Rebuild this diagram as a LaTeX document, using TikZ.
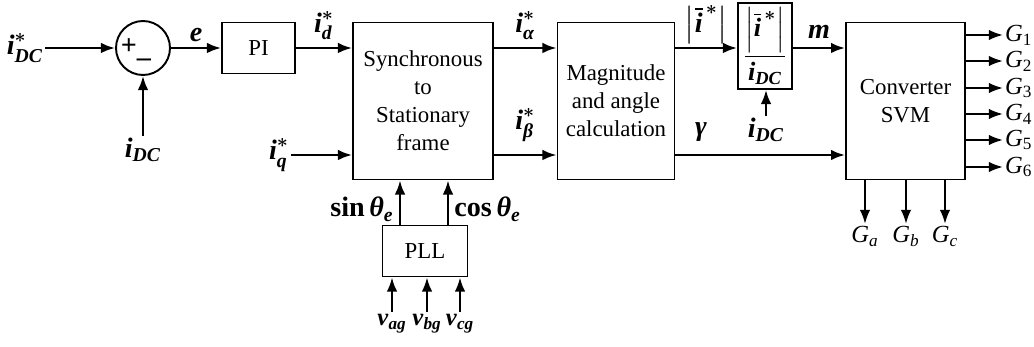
\documentclass[tikz,border=0pt]{standalone}
\usepackage{amsmath}
\usepackage{fontspec}
\setmainfont{Liberation Serif}
\usetikzlibrary{arrows.meta,positioning}
\newcommand{\bi}[1]{\textbf{\textit{#1}}}
\newcommand{\est}{\boldsymbol{\ast}}
\tikzset{
  blk/.style    = {draw, line width=1.1pt, align=center, inner sep=0pt},
  flecha/.style = {-{Latex[length=8pt,width=6pt]}, line width=1.3pt},
  lbl/.style    = {inner sep=1pt, font=\fontsize{16}{19}\selectfont},
  gsal/.style   = {inner sep=1pt, font=\fontsize{14}{17}\selectfont},
}
\begin{document}
\begin{tikzpicture}[x=0.02cm,y=-0.02cm,font=\fontsize{13}{16}\selectfont]
  \useasboundingbox (0,0) rectangle (1034,347);
  % bloques
  \node[blk,circle,minimum size=1.08cm] (suma) at (143,48) {};
  \node[lbl] (mas) at (129,47) {\textbf{+}};
  \node[lbl] (menos) at (144,63) {\textbf{--}};
  \node[blk,minimum width=1.46cm,minimum height=1.02cm] (PI) at (258.5,48) {PI};
  \node[blk,minimum width=2.8cm,minimum height=3.14cm] (sinc) at (423,101) {Synchronous\\to\\Stationary\\frame};
  \node[blk,minimum width=2.34cm,minimum height=3.14cm] (mag) at (616,101) {Magnitude\\and angle\\calculation};
  \node[blk,minimum width=1.08cm,minimum height=1.72cm,font=\fontsize{15}{18}\selectfont] (frac) at (765,46) {$\dfrac{\Bigl|\overline{\bi{i}}^{\,\est}\Bigr|}{\bi{i}_{\bi{DC}}}$};
  \node[blk,minimum width=2.38cm,minimum height=3.14cm] (svm) at (905.5,101) {Converter\\SVM};
  \node[blk,minimum width=1.7cm,minimum height=1.02cm] (pll) at (425,251) {PLL};
  % entradas
  \node[lbl] (idcref) at (25,48) {$\bi{i}^{\est}_{\bi{DC}}$};
  \node[lbl] (idc) at (143,150) {$\bi{i}_{\bi{DC}}$};
  \node[lbl] (iq) at (279,155) {$\bi{i}^{\est}_{\bi{q}}$};
  \node[lbl] (idcb) at (766,130) {$\bi{i}_{\bi{DC}}$};
  \coordinate (xs) at (400,0);
  \coordinate (xc) at (448,0);
  % conexiones
  \draw[flecha] (idcref) -- (suma);
  \draw[flecha] (idc.north) -- (suma.south);
  \draw[flecha] (suma) -- node[lbl,above=2pt]{\bi{e}} (PI);
  \draw[flecha] (PI.east) -- node[lbl,above=3pt]{$\bi{i}^{\est}_{\bi{d}}$} (PI.east -| sinc.west);
  \draw[flecha] (iq) -- (iq -| sinc.west);
  \draw[flecha] (sinc.east |- PI) -- node[lbl,above=3pt]{$\bi{i}^{\est}_{\bi{α}}$} (mag.west |- PI);
  \draw[flecha] (sinc.east |- iq) -- node[lbl,above=6pt]{$\bi{i}^{\est}_{\bi{β}}$} (mag.west |- iq);
  \draw[flecha] (mag.east |- PI) -- node[lbl,above=1pt]{$\bigl|\overline{\bi{i}}^{\,\est}\bigr|$} (frac.west |- PI);
  \draw[flecha] (idcb.north) -- (idcb.north |- frac.south);
  \draw[flecha] (frac.east |- PI) -- node[lbl,above=4pt]{\bi{m}} (svm.west |- PI);
  \draw[flecha] (mag.east |- iq) -- node[lbl,above=6pt,pos=0.15]{\bi{γ}} (svm.west |- iq);
  \draw[flecha] (pll.north -| xs) -- node[lbl,left=2pt,pos=0.35]{\textbf{sin}\,$\bi{θ}_{\bi{e}}$} (sinc.south -| xs);
  \draw[flecha] (pll.north -| xc) -- node[lbl,right=2pt,pos=0.35]{\textbf{cos}\,$\bi{θ}_{\bi{e}}$} (sinc.south -| xc);
  \foreach \fase/\x in {a/392,b/427,c/460}{
    \node[gsal,anchor=north] (v\fase) at (\x,312) {$\bi{v}_{\bi{\fase g}}$};
    \draw[flecha] (v\fase.north) -- (v\fase.north |- pll.south);
  }
  % salidas
  \foreach \k/\y in {1/35,2/61,3/88,4/114,5/140,6/167}{
    \node[gsal,anchor=west] (G\k) at (1003,\y) {$\textit{G}_{\text{\k}}$};
    \draw[flecha] (svm.east |- G\k) -- (G\k.west);
  }
  \foreach \fase/\x in {a/865,b/906,c/945}{
    \node[gsal,anchor=north] (G\fase) at (\x,224) {$\textit{G}_{\textit{\fase}}$};
    \draw[flecha] (svm.south -| G\fase) -- (G\fase.north);
  }
\end{tikzpicture}
\end{document}
